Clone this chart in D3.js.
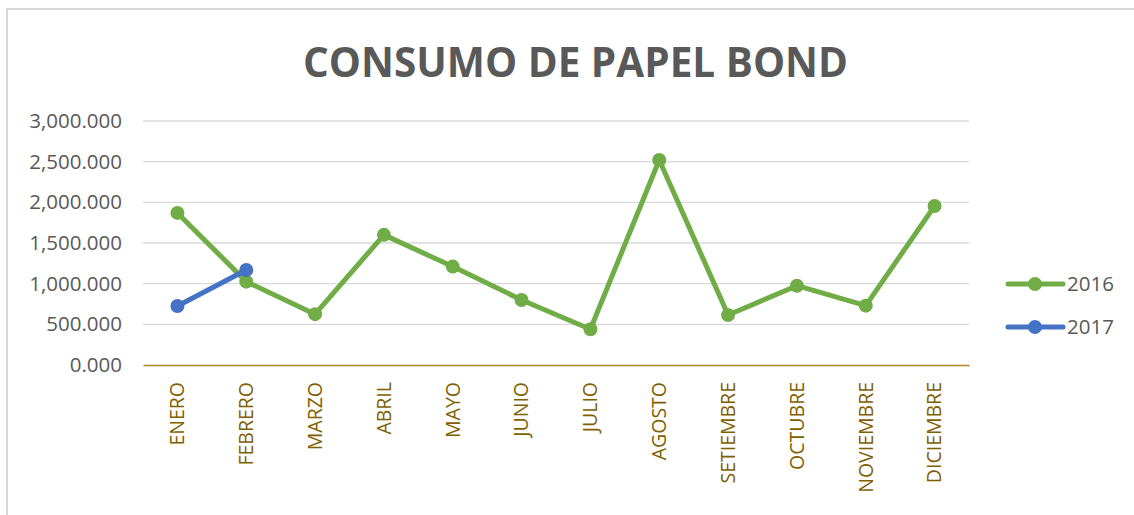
<!DOCTYPE html>
<html>
<head>
<meta charset="utf-8">
<script src="https://cdn.jsdelivr.net/npm/d3@7"></script>
<style>
  body { margin: 0; background: #fff; }
  svg { display: block; }
</style>
</head>
<body>
<svg id="chart" width="1134" height="515"></svg>
<script>
const months = ['ENERO', 'FEBRERO', 'MARZO', 'ABRIL', 'MAYO', 'JUNIO', 'JULIO',
    'AGOSTO', 'SETIEMBRE', 'OCTUBRE', 'NOVIEMBRE', 'DICIEMBRE'];
const values2016 = [1870, 1025, 625, 1600, 1210, 800, 440, 2520, 615, 975, 730, 1955];
const values2017 = [725, 1168];
const yTicks = [0, 500, 1000, 1500, 2000, 2500, 3000];
const seriesNames = ['2016', '2017'];
const seriesColors = ['#70ad47', '#4472c4'];

const svg = d3.select('#chart');
const font = "'Open Sans', sans-serif";

// chart frame
svg.append('rect')
    .attr('x', 7).attr('y', 9)
    .attr('width', 1140).attr('height', 520)
    .attr('fill', 'none')
    .attr('stroke', '#d9d9d9')
    .attr('stroke-width', 2);

svg.append('text')
    .attr('x', 575.5).attr('y', 77)
    .attr('text-anchor', 'middle')
    .attr('textLength', 545)
    .attr('lengthAdjust', 'spacingAndGlyphs')
    .style('font-family', font)
    .style('font-weight', 'bold')
    .style('font-size', '42px')
    .style('fill', '#595959')
    .text('CONSUMO DE PAPEL BOND');

const x = d3.scaleBand().domain(months).range([143, 969]);
const y = d3.scaleLinear().domain([0, 3000]).range([365, 121]);

// gridlines
svg.append('g').selectAll('line')
    .data(yTicks.filter(d => d > 0))
    .enter()
    .append('line')
    .attr('x1', 143).attr('x2', 969)
    .attr('y1', d => y(d)).attr('y2', d => y(d))
    .style('stroke', '#d9d9d9')
    .style('stroke-width', 1.3);

// y labels, shown like 3,000.000
const yAxis = svg.append('g')
    .attr('transform', 'translate(143,0)')
    .call(d3.axisLeft(y).tickValues(yTicks).tickSize(0).tickPadding(21)
        .tickFormat(d3.format(',.3f')));
yAxis.select('.domain').remove();
yAxis.selectAll('text')
    .style('font-family', font)
    .style('font-size', '20.5px')
    .style('fill', '#595959');

// x axis
const xAxis = svg.append('g')
    .attr('transform', 'translate(0,365)')
    .call(d3.axisBottom(x).tickSize(0).tickPadding(0));
xAxis.select('.domain')
    .style('stroke', '#a88a23')
    .style('stroke-width', 1.5);
xAxis.selectAll('text')
    .attr('transform', 'rotate(-90)')
    .attr('x', -17)
    .attr('y', 0)
    .attr('dy', '0.35em')
    .attr('text-anchor', 'end')
    .style('font-family', font)
    .style('font-size', '19.5px')
    .style('fill', '#7f6000');

const line = d3.line()
    .x((d, i) => x(months[i]) + x.bandwidth() / 2)
    .y(d => y(d));

[values2016, values2017].forEach((vals, k) => {
    const g = svg.append('g');
    g.append('path')
        .datum(vals)
        .attr('d', line)
        .attr('fill', 'none')
        .style('stroke', seriesColors[k])
        .style('stroke-width', 5)
        .style('stroke-linejoin', 'round');
    g.selectAll('circle')
        .data(vals)
        .enter()
        .append('circle')
        .attr('cx', (d, i) => x(months[i]) + x.bandwidth() / 2)
        .attr('cy', d => y(d))
        .attr('r', 7)
        .style('fill', seriesColors[k]);
});

// legend
const legend = svg.append('g').selectAll('g')
    .data(seriesNames)
    .enter()
    .append('g')
    .attr('transform', (d, i) => `translate(1008,${284 + i * 43})`);
legend.append('line')
    .attr('x1', 0).attr('x2', 55)
    .style('stroke', (d, i) => seriesColors[i])
    .style('stroke-width', 5)
    .style('stroke-linecap', 'round');
legend.append('circle')
    .attr('cx', 27).attr('r', 7)
    .style('fill', (d, i) => seriesColors[i]);
legend.append('text')
    .attr('x', 59).attr('dy', '0.35em')
    .style('font-family', font)
    .style('font-size', '20.5px')
    .style('fill', '#595959')
    .text(d => d);
</script>
</body>
</html>
